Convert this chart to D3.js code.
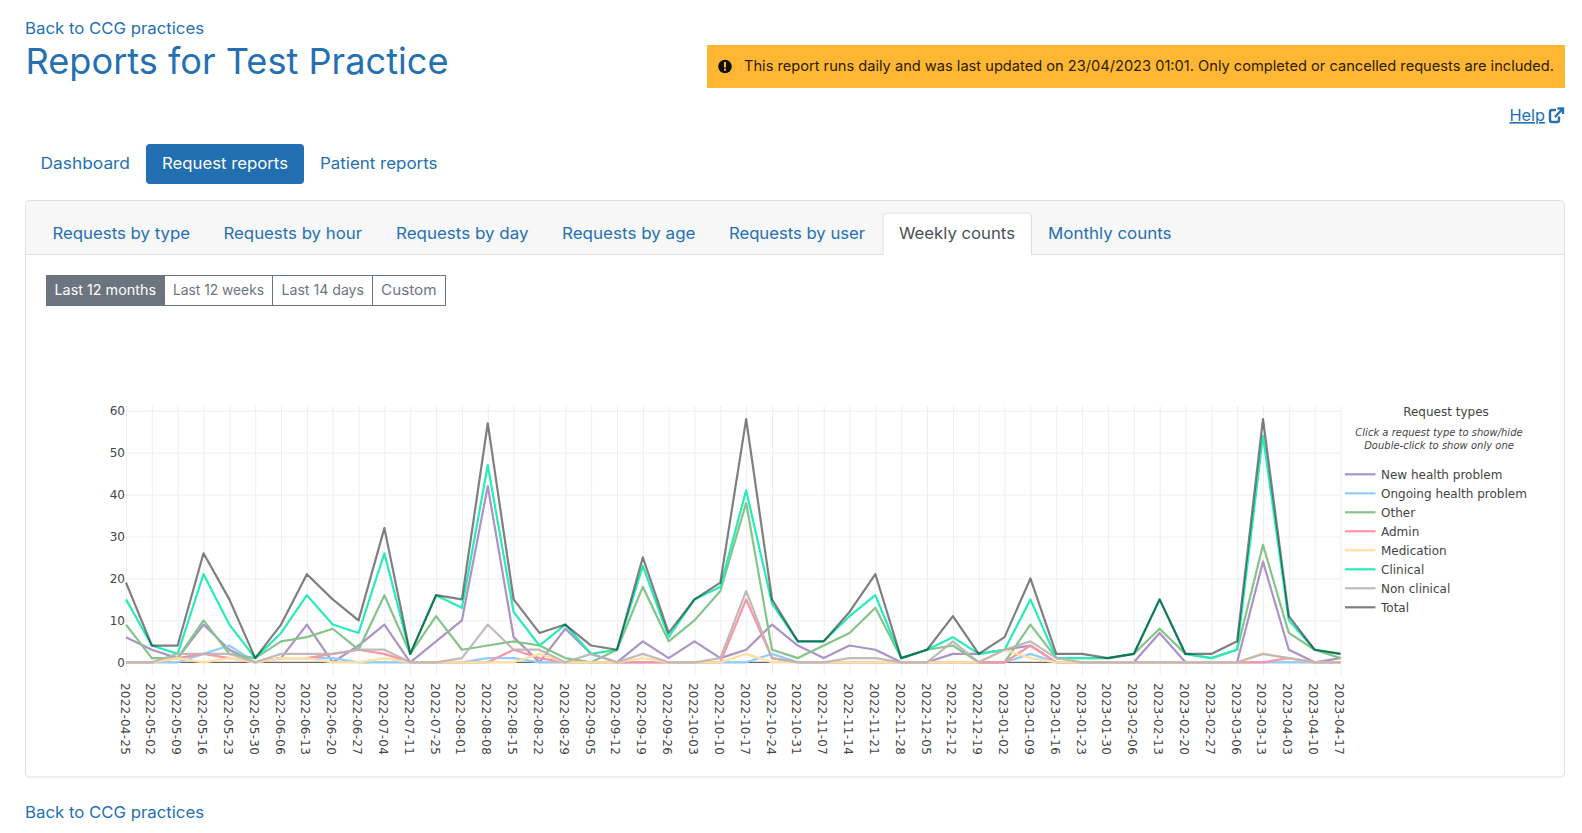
<!DOCTYPE html>
<html><head><meta charset="utf-8">
<style>html,body{margin:0;padding:0;background:#fff;overflow:hidden}svg{display:block}</style>
<script src="https://cdnjs.cloudflare.com/ajax/libs/d3/7.8.5/d3.min.js"></script>
</head><body><svg id="page" width="1582" height="833"></svg>
<script>
const weeks=["2022-04-25","2022-05-02","2022-05-09","2022-05-16","2022-05-23","2022-05-30","2022-06-06","2022-06-13","2022-06-20","2022-06-27","2022-07-04","2022-07-11","2022-07-25","2022-08-01","2022-08-08","2022-08-15","2022-08-22","2022-08-29","2022-09-05","2022-09-12","2022-09-19","2022-09-26","2022-10-03","2022-10-10","2022-10-17","2022-10-24","2022-10-31","2022-11-07","2022-11-14","2022-11-21","2022-11-28","2022-12-05","2022-12-12","2022-12-19","2023-01-02","2023-01-09","2023-01-16","2023-01-23","2023-01-30","2023-02-06","2023-02-13","2023-02-20","2023-02-27","2023-03-06","2023-03-13","2023-04-03","2023-04-10","2023-04-17"];
const newHealth=[6,3,1,9,3,0,1,9,0,4,9,0,5,10,42,6,0,8,2,0,5,1,5,1,3,9,4,1,4,3,0,0,2,2,3,4,0,0,0,0,7,0,0,0,24,3,0,1];
const ongoing=[0,0,0,2,4,0,1,1,1,0,0,0,0,0,1,1,0,0,0,0,0,0,0,0,0,2,0,0,0,0,0,0,0,0,0,2,0,0,0,0,0,0,0,0,0,0,0,0];
const other=[9,1,1,10,2,1,5,6,8,3,16,2,11,3,4,5,4,1,0,3,18,5,10,17,38,3,1,4,7,13,1,3,4,0,0,9,1,1,1,2,8,2,1,3,28,7,3,1];
const admin=[0,0,1,2,1,0,1,1,2,3,2,0,0,0,0,3,1,0,0,0,0,0,0,0,15,1,0,0,0,0,0,0,0,0,0,4,0,0,0,0,0,0,0,0,0,1,0,0];
const medication=[0,0,1,0,1,0,1,1,0,0,1,0,0,0,0,0,2,0,0,0,1,0,0,0,2,0,0,0,0,0,0,0,0,0,3,1,0,0,0,0,0,0,0,0,2,1,0,0];
const clinical=[15,4,2,21,9,1,7,16,9,7,26,2,16,13,47,12,4,9,2,3,23,6,15,18,41,14,5,5,11,16,1,3,6,2,3,15,1,1,1,2,15,2,1,3,54,10,3,2];
const nonClinical=[0,0,2,2,2,0,2,2,2,3,3,0,0,1,9,3,3,0,2,0,2,0,0,1,17,1,0,0,1,1,0,0,5,0,3,5,1,0,0,0,0,0,0,0,2,1,0,0];
const total=[19,4,4,26,15,1,9,21,15,10,32,2,16,15,57,15,7,9,4,3,25,7,15,19,58,15,5,5,12,21,1,3,11,2,6,20,2,2,1,2,15,2,2,5,58,11,3,2];
const seriesNames=["New health problem","Ongoing health problem","Other","Admin","Medication","Clinical","Non clinical","Total"];
const seriesValues=[newHealth,ongoing,other,admin,medication,clinical,nonClinical,total];
const seriesColors=["#ad92c8","#90cdfb","#84c489","#ff93a6","#ffe09e","#28ebba","rgba(185,180,178,.9)","rgba(0,0,0,.5)"];
const yTicks=[0,10,20,30,40,50,60];

const svg=d3.select("#page");
const POP="Inter, 'Open Sans', sans-serif", CHART="'DejaVu Sans', Verdana, sans-serif";
const BLUE="#2470b2";
function T(s,x0,x1,base,size,fill,opts){
  const t=svg.append("text").attr("x",x0).attr("y",base).attr("font-family",POP).attr("font-size",size).attr("fill",fill).text(s);
  t.attr("textLength",x1-x0).attr("lengthAdjust","spacingAndGlyphs");
  if(opts&&opts.weight)t.attr("font-weight",opts.weight);
  return t;
}
// ---- page chrome
T("Back to CCG practices",25,204,34,16,BLUE);
T("Reports for Test Practice",25.5,448.5,74,36,BLUE);
svg.append("rect").attr("x",707).attr("y",45).attr("width",858).attr("height",43).attr("fill","#ffb733");
svg.append("circle").attr("cx",725).attr("cy",66.5).attr("r",6.8).attr("fill","#111");
svg.append("rect").attr("x",724).attr("y",62).attr("width",2).attr("height",5.5).attr("fill","#ffb733");
svg.append("rect").attr("x",724).attr("y",68.6).attr("width",2).attr("height",2).attr("fill","#ffb733");
T("This report runs daily and was last updated on 23/04/2023 01:01. Only completed or cancelled requests are included.",744,1554,71,14.4,"#2b1d00");
T("Help",1509.5,1545,121,16,BLUE).attr("text-decoration","underline");
const ext=svg.append("g").attr("fill","none").attr("stroke",BLUE).attr("stroke-width",2.4).attr("transform","translate(-2,0)");
ext.append("path").attr("d","M1561,116.5 V120 a2,2 0 0 1 -2,2 H1554 a2,2 0 0 1 -2,-2 V112 a2,2 0 0 1 2,-2 H1558");
ext.append("path").attr("d","M1557,117 L1564,109.5 M1559.5,108.5 H1565 V114");

T("Dashboard",40.5,130,169,16,BLUE);
svg.append("rect").attr("x",146).attr("y",144).attr("width",158).attr("height",40).attr("rx",4).attr("fill","#216eb0");
T("Request reports",162,288,169,16,"#fff");
T("Patient reports",320,437.5,169,16,BLUE);

svg.append("rect").attr("x",25.5).attr("y",200.5).attr("width",1539).attr("height",576.5).attr("rx",4).attr("fill","#fff").attr("stroke","#dfdfdf");
svg.append("path").attr("d","M26,254 V205 a4,4 0 0 1 4,-4 H1560 a4,4 0 0 1 4,4 V254 Z").attr("fill","#f7f7f7");
svg.append("line").attr("x1",26).attr("x2",1564).attr("y1",254.5).attr("y2",254.5).attr("stroke","#dfdfdf");
svg.append("path").attr("d","M883,255 V217 a4,4 0 0 1 4,-4 H1027.5 a4,4 0 0 1 4,4 V255").attr("fill","#fff").attr("stroke","#dfdfdf");
T("Requests by type",52.5,190,239,16,BLUE);
T("Requests by hour",223.5,362,239,16,BLUE);
T("Requests by day",396,528.5,239,16,BLUE);
T("Requests by age",562,695.5,239,16,BLUE);
T("Requests by user",729,865,239,16,BLUE);
T("Weekly counts",899,1015,239,16,"#495057");
T("Monthly counts",1048,1171.5,239,16,BLUE);

svg.append("rect").attr("x",46.5).attr("y",275.5).attr("width",399).attr("height",30).attr("fill","#fff").attr("stroke","#6c757d");
svg.append("rect").attr("x",46).attr("y",275).attr("width",119).attr("height",31).attr("fill","#6c757d");
svg.selectAll("line.sep").data([272.5,372.5]).enter().append("line").attr("x1",d=>d).attr("x2",d=>d).attr("y1",275).attr("y2",306).attr("stroke","#6c757d");
T("Last 12 months",54.5,156,295,14,"#fff");
T("Last 12 weeks",173,264,295,14,"#6c757d");
T("Last 14 days",281.5,364,295,14,"#6c757d");
T("Custom",381,436.5,295,14,"#6c757d");
T("Back to CCG practices",25,204,818,16,BLUE);

// ---- chart
const x=d3.scalePoint().domain(weeks).range([126,1340.5]);
const y=d3.scaleLinear().domain([0,60]).range([662.3,410.7]);
const gridTop=406, gridBot=675;
const chart=svg.append("g");
const gy=chart.append("g").attr("transform","translate(126,0)").call(
  d3.axisLeft(y).tickValues(yTicks).tickSize(-1215).tickPadding(1));
gy.select(".domain").remove();
gy.selectAll("line").attr("stroke","#eeeeee").attr("stroke-width",1);
gy.selectAll("text").attr("font-family",CHART).attr("font-size",12).attr("fill","#444");
const gx=chart.append("g").attr("transform",`translate(0,${gridBot})`).call(
  d3.axisBottom(x).tickSize(-(gridBot-gridTop)).tickPadding(0));
gx.select(".domain").remove();
gx.selectAll("line").attr("stroke","#eeeeee").attr("stroke-width",1);
gx.selectAll("text").attr("font-family",CHART).attr("font-size",12).attr("fill","#444")
  .attr("text-anchor","start").attr("dy",null).attr("y",0)
  .attr("textLength",71.8).attr("lengthAdjust","spacing")
  .attr("transform","translate(-6,8) rotate(90)");
chart.append("line").attr("x1",126).attr("x2",1340.5).attr("y1",y(0)).attr("y2",y(0)).attr("stroke","#444");
const line=d3.line().x((d,i)=>x(weeks[i])).y(d=>y(d));
chart.selectAll("path.series").data(seriesValues).enter().append("path").attr("class","series")
  .attr("fill","none").attr("stroke",(d,i)=>seriesColors[i]).attr("stroke-width",2.2).attr("stroke-linejoin","round")
  .attr("d",d=>line(d));

// ---- legend
const legendX=1381;
const ltxt=(s,cx,base,size,italic)=>svg.append("text").attr("x",cx).attr("y",base).attr("text-anchor","middle").attr("font-family",CHART).attr("font-size",size).attr("font-style",italic?"italic":"normal").attr("fill","#444").text(s);
ltxt("Request types",1446,416,12);
ltxt("Click a request type to show/hide",1439,436,10,true);
ltxt("Double-click to show only one",1439,449,10,true);
const rowY=d3.scalePoint().domain(seriesNames).range([474.3,607.3]);
const rows=svg.selectAll("g.leg").data(seriesNames).enter().append("g").attr("class","leg").attr("transform",d=>`translate(0,${rowY(d)})`);
rows.append("line").attr("x1",1345).attr("x2",1375.5).attr("stroke",(d,i)=>seriesColors[i]).attr("stroke-width",2.2);
rows.append("text").attr("x",legendX).attr("y",4.5).attr("font-family",CHART).attr("font-size",12).attr("fill","#444").text(d=>d);
</script></body></html>
